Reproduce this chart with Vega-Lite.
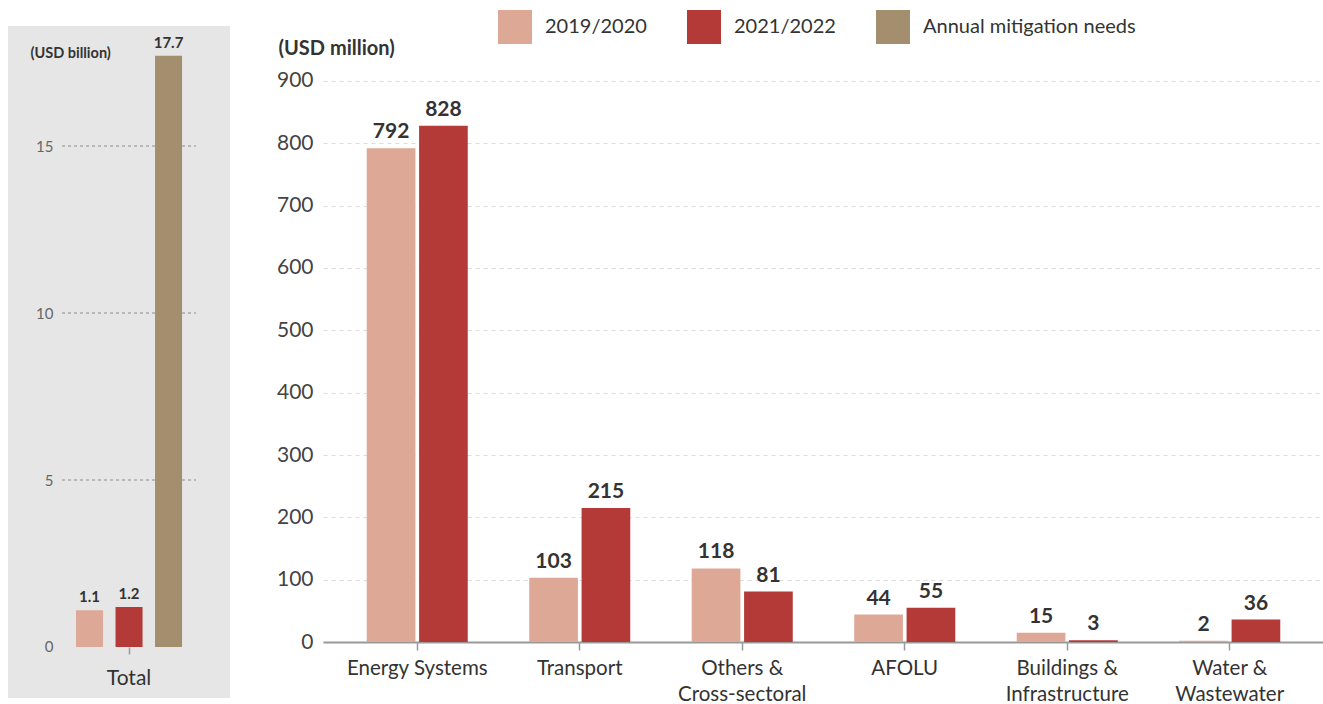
{
  "$schema": "https://vega.github.io/schema/vega-lite/v6.json",
  "padding": {"left": 8, "top": 10, "right": 0, "bottom": 6},
  "background": "white",
  "spacing": 46,
  "resolve": {"scale": {"xOffset": "independent", "x": "independent", "y": "independent"}},
  "config": {
    "font": "Lato",
    "view": {"stroke": null},
    "axis": {"labelFont": "Lato", "titleFont": "Lato"},
    "legend": {"labelFont": "Lato"}
  },
  "datasets": {
    "total": [
      {"scope": "Total", "period": "2019/2020", "value": 1.1},
      {"scope": "Total", "period": "2021/2022", "value": 1.2},
      {"scope": "Total", "period": "Annual mitigation needs", "value": 17.7}
    ],
    "sectors": [
      {"sector": "Energy Systems", "period": "2019/2020", "value": 792},
      {"sector": "Energy Systems", "period": "2021/2022", "value": 828},
      {"sector": "Transport", "period": "2019/2020", "value": 103},
      {"sector": "Transport", "period": "2021/2022", "value": 215},
      {"sector": "Others & Cross-sectoral", "period": "2019/2020", "value": 118},
      {"sector": "Others & Cross-sectoral", "period": "2021/2022", "value": 81},
      {"sector": "AFOLU", "period": "2019/2020", "value": 44},
      {"sector": "AFOLU", "period": "2021/2022", "value": 55},
      {"sector": "Buildings & Infrastructure", "period": "2019/2020", "value": 15},
      {"sector": "Buildings & Infrastructure", "period": "2021/2022", "value": 3},
      {"sector": "Water & Wastewater", "period": "2019/2020", "value": 2},
      {"sector": "Water & Wastewater", "period": "2021/2022", "value": 36}
    ]
  },
  "hconcat": [
    {
      "width": 222,
      "height": 672,
      "view": {"fill": "#e6e6e6", "stroke": null},
      "layer": [
        {
          "data": {"values": [{"level": 5}, {"level": 10}, {"level": 15}]},
          "mark": {"type": "rule", "stroke": "#8c8c8c", "strokeDash": [3, 3], "strokeWidth": 1},
          "encoding": {
            "y": {"field": "level", "type": "quantitative"},
            "x": {"datum": "Total", "bandPosition": 0},
            "x2": {"datum": "Total", "bandPosition": 1}
          }
        },
        {
          "data": {"name": "total"},
          "mark": {"type": "bar"},
          "encoding": {
            "x": {
              "field": "scope", "type": "nominal",
              "scale": {"paddingOuter": 0.3284, "paddingInner": 0, "align": 0.614},
              "axis": {
                "title": null, "offset": -51, "domain": false,
                "ticks": true, "tickSize": 7, "tickColor": "#999999", "tickWidth": 1.5,
                "labelFontSize": 21, "labelColor": "#333333", "labelPadding": 24, "labelAngle": 0,
                "labelAlign": "center", "labelFlush": false
              }
            },
            "xOffset": {
              "field": "period", "type": "nominal",
              "scale": {"paddingInner": 0.316, "paddingOuter": 0.354}
            },
            "y": {
              "field": "value", "type": "quantitative",
              "scale": {"domain": [-1.527, 18.593], "nice": false, "zero": false},
              "axis": {
                "values": [0, 5, 10, 15], "grid": false, "domain": false, "ticks": false,
                "offset": -54, "labelPadding": 9, "labelFontSize": 15, "labelColor": "#666666",
                "title": "(USD billion)", "titleAngle": 0, "titleAlign": "left", "titleBaseline": "middle",
                "titleX": -32, "titleY": 27, "titleFontSize": 14.5, "titleFontWeight": "bold", "titleColor": "#333333"
              }
            },
            "color": {
              "field": "period", "type": "nominal",
              "scale": {
                "domain": ["2019/2020", "2021/2022", "Annual mitigation needs"],
                "range": ["#dda896", "#b43a38", "#a38f6d"]
              },
              "legend": {
                "title": null, "orient": "none", "legendX": 490, "legendY": -16,
                "direction": "horizontal", "symbolType": "square", "symbolSize": 1156,
                "symbolStrokeWidth": 0, "labelFontSize": 20, "labelColor": "#333333",
                "labelOffset": 13, "columnPadding": 40, "padding": 0, "labelLimit": 400
              }
            }
          }
        },
        {
          "data": {"name": "total"},
          "mark": {"type": "text", "fontSize": 15, "fontWeight": "bold", "fill": "#333333", "baseline": "alphabetic", "dy": -8},
          "encoding": {
            "x": {"field": "scope", "type": "nominal"},
            "xOffset": {"field": "period", "type": "nominal"},
            "y": {"field": "value", "type": "quantitative"},
            "text": {"field": "value", "type": "quantitative", "format": ".1f"}
          }
        },
        {
          "mark": {"type": "rule", "stroke": "#999999", "strokeWidth": 2},
          "encoding": {
            "y": {"datum": 0},
            "x": {"datum": "Total", "bandPosition": 0},
            "x2": {"datum": "Total", "bandPosition": 1}
          }
        }
      ]
    },
    {
      "width": 1001,
      "height": 672,
      "data": {"name": "sectors"},
      "encoding": {
        "x": {
          "field": "sector", "type": "nominal", "sort": null,
          "scale": {"paddingOuter": 0.08, "paddingInner": 0},
          "axis": {
            "title": null, "offset": -56, "domainColor": "#999999", "domainWidth": 2,
            "tickColor": "#999999", "tickSize": 8, "tickWidth": 1.5,
            "labelFontSize": 20.5, "labelColor": "#333333", "labelPadding": 8,
            "labelLineHeight": 26, "labelAngle": 0,
            "labelExpr": "indexof(datum.value, ' & ') > 0 ? [slice(datum.value, 0, indexof(datum.value, ' & ') + 2), slice(datum.value, indexof(datum.value, ' & ') + 3)] : datum.value"
          }
        },
        "xOffset": {
          "field": "period", "type": "nominal",
          "scale": {"paddingInner": 0.07, "paddingOuter": 0.587}
        },
        "y": {
          "field": "value", "type": "quantitative",
          "scale": {"domain": [-89.8, 988.2], "nice": false, "zero": false},
          "axis": {
            "values": [0, 100, 200, 300, 400, 500, 600, 700, 800, 900],
            "grid": true, "gridColor": "#dcdcdc", "gridDash": [4, 4], "gridWidth": 1,
            "domain": false, "ticks": false, "labelPadding": 10,
            "labelFontSize": 21, "labelColor": "#444444",
            "title": "(USD million)", "titleAngle": 0, "titleAlign": "left", "titleBaseline": "middle",
            "titleX": -45, "titleY": 22, "titleFontSize": 20, "titleFontWeight": "bold", "titleColor": "#333333"
          }
        }
      },
      "layer": [
        {
          "mark": {"type": "bar"},
          "encoding": {
            "color": {"field": "period", "type": "nominal"}
          }
        },
        {
          "mark": {"type": "text", "fontSize": 21, "fontWeight": "bold", "fill": "#333333", "baseline": "alphabetic", "dy": -10},
          "encoding": {
            "text": {"field": "value", "type": "quantitative"}
          }
        }
      ]
    }
  ]
}
